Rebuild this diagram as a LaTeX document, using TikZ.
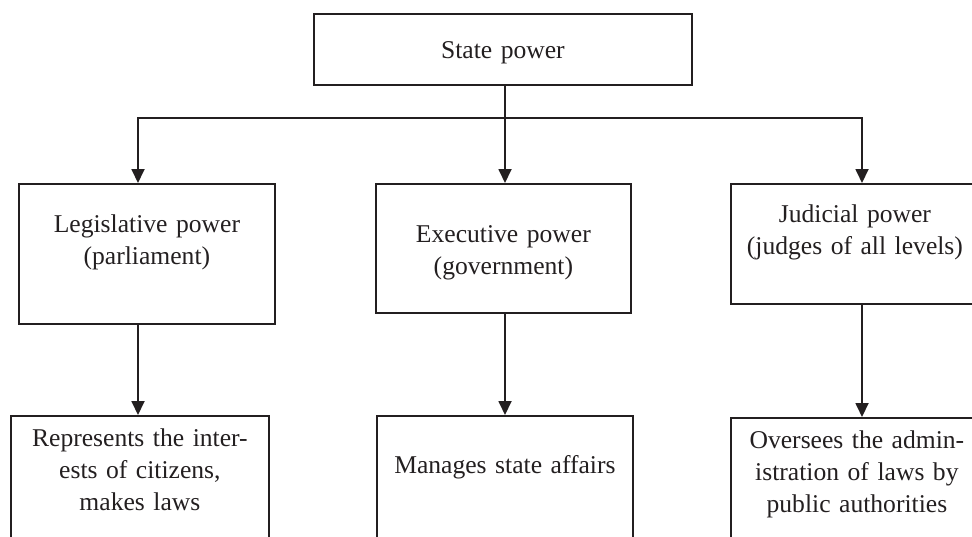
\documentclass[tikz,border=0pt]{standalone}
\usepackage{fontspec}
\setmainfont{Liberation Serif}
\usetikzlibrary{arrows.meta,positioning,calc}
\definecolor{ink}{RGB}{35,31,32}

\begin{document}
\begin{tikzpicture}[x=0.5pt, y=-0.5pt,
		powerBox/.style={
				draw=ink, line width=0.9pt, anchor=north west,
				inner xsep=0pt, inner ysep=0pt, align=center,
				text=ink, font=\fontsize{12.8pt}{16pt}\selectfont
			},
		parentarrow/.style={draw=ink, line width=0.9pt, -{Triangle[length=7pt, width=6.5pt]}}
	]
	\useasboundingbox (0,0) rectangle (972,536);
	\clip (0,0) rectangle (972,536);

	% Top box
	\node[powerBox, text width=189pt, text height=22.5pt, text depth=13pt] (state) at (313,13) {State power};

	% Branches
	\node[powerBox, text width=128pt, text height=24.5pt, text depth=45.5pt] (legis) at (18,183) {Legislative power\\(parliament)};
	\node[powerBox, text width=127.5pt, text height=29.5pt, text depth=35pt] (exec) at (375,183) {Executive power\\(government)};
	\node[powerBox, text width=124pt, text height=19.5pt, text depth=40.5pt] (judic) at (730,183) {Judicial power\\(judges of all levels)};

	% Tasks
	\node[powerBox, text width=129pt, text height=15.5pt, text depth=52pt] (legisTask) at (10,415) {Represents the inter-\\ests of citizens,\\makes laws};
	\node[powerBox, text width=128pt, text height=29pt, text depth=38.5pt] (execTask) at (376,415) {Manages state affairs};
	\node[powerBox, text width=126pt, text height=15.5pt, text depth=51pt] (judicTask) at (730,417) {Oversees the admin-\\istration of laws by\\public authorities};

	% Bus under the top box
	\coordinate (busL) at (138,118);
	\coordinate (busM) at (505,118);
	\coordinate (busR) at (862,118);

	\draw[parentarrow] (state.south -| busM) -- (exec.north -| busM);
	\draw[parentarrow] (busM) -- (busL) -- (legis.north -| busL);
	\draw[parentarrow] (busM) -- (busR) -- (judic.north -| busR);

	\draw[parentarrow] (legis.south -| busL) -- (legisTask.north -| busL);
	\draw[parentarrow] (exec.south -| busM) -- (execTask.north -| busM);
	\draw[parentarrow] (judic.south -| busR) -- (judicTask.north -| busR);
\end{tikzpicture}
\end{document}
